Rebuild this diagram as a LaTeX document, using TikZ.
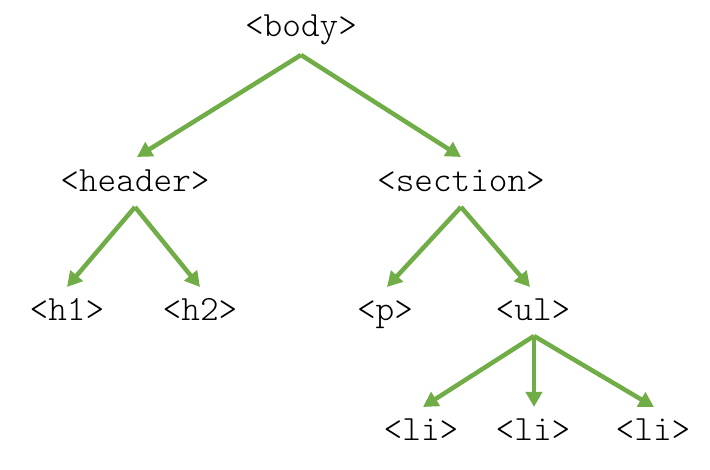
\documentclass[tikz,border=0pt]{standalone}
\usetikzlibrary{arrows.meta}
\definecolor{grn}{HTML}{70AD47}
\begin{document}
\begin{tikzpicture}[x=1pt,y=1pt,
  tag/.style={font=\ttfamily\fontseries{l}\fontsize{35.5}{35.5}\selectfont, inner sep=0pt, anchor=base},
  link/.style={draw=grn, line width=4.5pt, -{Triangle[length=15pt,width=16pt]}}]
\useasboundingbox (0,0) rectangle (710,469);
\node[tag] (body) at (301,432) {<body>};
\node[tag] (header) at (135,277) {<header>};
\node[tag] (section) at (461,277) {<section>};
\node[tag] (h1) at (67,148) {<h1>};
\node[tag] (h2) at (200,148) {<h2>};
\node[tag] (p) at (385,148) {<p>};
\node[tag] (ul) at (533,148) {<ul>};
\node[tag] (li1) at (421,28) {<li>};
\node[tag] (li2) at (533,28) {<li>};
\node[tag] (li3) at (653,28) {<li>};
% connector anchors
\coordinate (bodyS) at (301,414);
\coordinate (headerN) at (137,312);
\coordinate (sectionN) at (461,312);
\coordinate (headerS) at (135,262);
\coordinate (sectionS) at (461,262);
\coordinate (h1N) at (67,182);
\coordinate (h2N) at (200,182);
\coordinate (pN) at (387,182);
\coordinate (ulN) at (530,182);
\coordinate (ulS) at (534,133);
\coordinate (li1N) at (423,62);
\coordinate (li2N) at (534,62);
\coordinate (li3N) at (654,62);
\draw[link] (bodyS) -- (headerN);
\draw[link] (bodyS) -- (sectionN);
\draw[link] (headerS) -- (h1N);
\draw[link] (headerS) -- (h2N);
\draw[link] (sectionS) -- (pN);
\draw[link] (sectionS) -- (ulN);
\draw[link] (ulS) -- (li1N);
\draw[link] (ulS) -- (li2N);
\draw[link] (ulS) -- (li3N);
\end{tikzpicture}
\end{document}
